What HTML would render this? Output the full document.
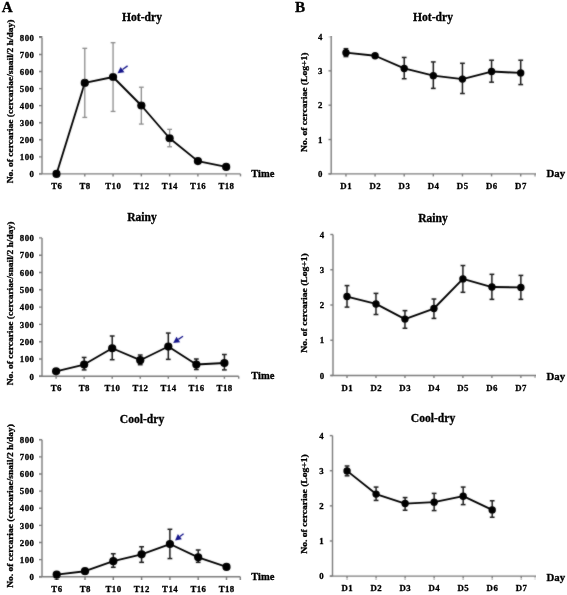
<!DOCTYPE html>
<html><head><meta charset="utf-8"><style>
html,body{margin:0;padding:0;background:#fff;}
body{width:567px;height:595px;overflow:hidden;}
svg{display:block;will-change:transform;font-family:"Liberation Serif", serif;font-weight:bold;}
text{fill:#000;stroke:#000;stroke-width:0.3px;}
</style></head><body>
<svg width="567" height="595" viewBox="0 0 567 595">
<defs><filter id="bl" x="0" y="0" width="1" height="1" filterUnits="objectBoundingBox"><feConvolveMatrix order="3" kernelMatrix="1 2 1 2 20 2 1 2 1" edgeMode="duplicate"/></filter></defs>
<rect width="567" height="595" fill="#fff"/>
<g filter="url(#bl)">
<line x1="42" y1="37.4" x2="42" y2="173.9" stroke="#7c7c7c" stroke-width="1.4"/>
<line x1="39.3" y1="173.90" x2="42" y2="173.90" stroke="#7c7c7c" stroke-width="1.4"/>
<line x1="39.3" y1="156.84" x2="42" y2="156.84" stroke="#7c7c7c" stroke-width="1.4"/>
<line x1="39.3" y1="139.78" x2="42" y2="139.78" stroke="#7c7c7c" stroke-width="1.4"/>
<line x1="39.3" y1="122.71" x2="42" y2="122.71" stroke="#7c7c7c" stroke-width="1.4"/>
<line x1="39.3" y1="105.65" x2="42" y2="105.65" stroke="#7c7c7c" stroke-width="1.4"/>
<line x1="39.3" y1="88.59" x2="42" y2="88.59" stroke="#7c7c7c" stroke-width="1.4"/>
<line x1="39.3" y1="71.53" x2="42" y2="71.53" stroke="#7c7c7c" stroke-width="1.4"/>
<line x1="39.3" y1="54.46" x2="42" y2="54.46" stroke="#7c7c7c" stroke-width="1.4"/>
<line x1="39.3" y1="37.40" x2="42" y2="37.40" stroke="#7c7c7c" stroke-width="1.4"/>
<line x1="39.3" y1="173.9" x2="240.5" y2="173.9" stroke="#7c7c7c" stroke-width="1.4"/>
<line x1="56.5" y1="173.9" x2="56.5" y2="176.4" stroke="#7c7c7c" stroke-width="1.4"/>
<line x1="84.78" y1="173.9" x2="84.78" y2="176.4" stroke="#7c7c7c" stroke-width="1.4"/>
<line x1="113.06" y1="173.9" x2="113.06" y2="176.4" stroke="#7c7c7c" stroke-width="1.4"/>
<line x1="141.34" y1="173.9" x2="141.34" y2="176.4" stroke="#7c7c7c" stroke-width="1.4"/>
<line x1="169.62" y1="173.9" x2="169.62" y2="176.4" stroke="#7c7c7c" stroke-width="1.4"/>
<line x1="197.9" y1="173.9" x2="197.9" y2="176.4" stroke="#7c7c7c" stroke-width="1.4"/>
<line x1="226.18" y1="173.9" x2="226.18" y2="176.4" stroke="#7c7c7c" stroke-width="1.4"/>
<line x1="240.5" y1="173.9" x2="240.5" y2="176.4" stroke="#7c7c7c" stroke-width="1.4"/>
<line x1="84.78" y1="48.32" x2="84.78" y2="117.42" stroke="#8c8c8c" stroke-width="1.3"/>
<line x1="82.38" y1="48.32" x2="87.18" y2="48.32" stroke="#8c8c8c" stroke-width="1.3"/>
<line x1="82.38" y1="117.42" x2="87.18" y2="117.42" stroke="#8c8c8c" stroke-width="1.3"/>
<line x1="113.06" y1="42.69" x2="113.06" y2="111.45" stroke="#8c8c8c" stroke-width="1.3"/>
<line x1="110.66" y1="42.69" x2="115.46000000000001" y2="42.69" stroke="#8c8c8c" stroke-width="1.3"/>
<line x1="110.66" y1="111.45" x2="115.46000000000001" y2="111.45" stroke="#8c8c8c" stroke-width="1.3"/>
<line x1="141.34" y1="87.22" x2="141.34" y2="124.08" stroke="#8c8c8c" stroke-width="1.3"/>
<line x1="138.94" y1="87.22" x2="143.74" y2="87.22" stroke="#8c8c8c" stroke-width="1.3"/>
<line x1="138.94" y1="124.08" x2="143.74" y2="124.08" stroke="#8c8c8c" stroke-width="1.3"/>
<line x1="169.62" y1="129.37" x2="169.62" y2="146.77" stroke="#8c8c8c" stroke-width="1.3"/>
<line x1="167.22" y1="129.37" x2="172.02" y2="129.37" stroke="#8c8c8c" stroke-width="1.3"/>
<line x1="167.22" y1="146.77" x2="172.02" y2="146.77" stroke="#8c8c8c" stroke-width="1.3"/>
<line x1="197.9" y1="159.91" x2="197.9" y2="162.30" stroke="#8c8c8c" stroke-width="1.3"/>
<line x1="195.5" y1="159.91" x2="200.3" y2="159.91" stroke="#8c8c8c" stroke-width="1.3"/>
<line x1="195.5" y1="162.30" x2="200.3" y2="162.30" stroke="#8c8c8c" stroke-width="1.3"/>
<polyline fill="none" stroke="#000" stroke-width="1.85" stroke-linejoin="round" points="56.50,173.90 84.78,82.96 113.06,76.99 141.34,105.48 169.62,138.24 197.90,161.10 226.18,166.90"/>
<circle cx="56.5" cy="173.90" r="4.1" fill="#000"/>
<circle cx="84.78" cy="82.96" r="4.1" fill="#000"/>
<circle cx="113.06" cy="76.99" r="4.1" fill="#000"/>
<circle cx="141.34" cy="105.48" r="4.1" fill="#000"/>
<circle cx="169.62" cy="138.24" r="4.1" fill="#000"/>
<circle cx="197.9" cy="161.10" r="4.1" fill="#000"/>
<circle cx="226.18" cy="166.90" r="4.1" fill="#000"/>
<line x1="127.6" y1="65.9" x2="122.52" y2="69.57" stroke="#19198c" stroke-width="1.3"/>
<polygon fill="#19198c" points="117.5,73.2 120.59,66.89 124.46,72.24"/>
<line x1="42" y1="237.9" x2="42" y2="376.3" stroke="#7c7c7c" stroke-width="1.4"/>
<line x1="39.3" y1="376.30" x2="42" y2="376.30" stroke="#7c7c7c" stroke-width="1.4"/>
<line x1="39.3" y1="359.00" x2="42" y2="359.00" stroke="#7c7c7c" stroke-width="1.4"/>
<line x1="39.3" y1="341.70" x2="42" y2="341.70" stroke="#7c7c7c" stroke-width="1.4"/>
<line x1="39.3" y1="324.40" x2="42" y2="324.40" stroke="#7c7c7c" stroke-width="1.4"/>
<line x1="39.3" y1="307.10" x2="42" y2="307.10" stroke="#7c7c7c" stroke-width="1.4"/>
<line x1="39.3" y1="289.80" x2="42" y2="289.80" stroke="#7c7c7c" stroke-width="1.4"/>
<line x1="39.3" y1="272.50" x2="42" y2="272.50" stroke="#7c7c7c" stroke-width="1.4"/>
<line x1="39.3" y1="255.20" x2="42" y2="255.20" stroke="#7c7c7c" stroke-width="1.4"/>
<line x1="39.3" y1="237.90" x2="42" y2="237.90" stroke="#7c7c7c" stroke-width="1.4"/>
<line x1="39.3" y1="376.3" x2="238.7" y2="376.3" stroke="#7c7c7c" stroke-width="1.4"/>
<line x1="56.1" y1="376.3" x2="56.1" y2="378.8" stroke="#7c7c7c" stroke-width="1.4"/>
<line x1="84.15" y1="376.3" x2="84.15" y2="378.8" stroke="#7c7c7c" stroke-width="1.4"/>
<line x1="112.2" y1="376.3" x2="112.2" y2="378.8" stroke="#7c7c7c" stroke-width="1.4"/>
<line x1="140.25" y1="376.3" x2="140.25" y2="378.8" stroke="#7c7c7c" stroke-width="1.4"/>
<line x1="168.3" y1="376.3" x2="168.3" y2="378.8" stroke="#7c7c7c" stroke-width="1.4"/>
<line x1="196.35" y1="376.3" x2="196.35" y2="378.8" stroke="#7c7c7c" stroke-width="1.4"/>
<line x1="224.4" y1="376.3" x2="224.4" y2="378.8" stroke="#7c7c7c" stroke-width="1.4"/>
<line x1="238.7" y1="376.3" x2="238.7" y2="378.8" stroke="#7c7c7c" stroke-width="1.4"/>
<line x1="84.15" y1="357.44" x2="84.15" y2="369.90" stroke="#1e1e1e" stroke-width="1.5"/>
<line x1="81.75" y1="357.44" x2="86.55000000000001" y2="357.44" stroke="#1e1e1e" stroke-width="1.5"/>
<line x1="81.75" y1="369.90" x2="86.55000000000001" y2="369.90" stroke="#1e1e1e" stroke-width="1.5"/>
<line x1="112.2" y1="335.99" x2="112.2" y2="359.69" stroke="#1e1e1e" stroke-width="1.5"/>
<line x1="109.8" y1="335.99" x2="114.60000000000001" y2="335.99" stroke="#1e1e1e" stroke-width="1.5"/>
<line x1="109.8" y1="359.69" x2="114.60000000000001" y2="359.69" stroke="#1e1e1e" stroke-width="1.5"/>
<line x1="140.25" y1="355.02" x2="140.25" y2="364.71" stroke="#1e1e1e" stroke-width="1.5"/>
<line x1="137.85" y1="355.02" x2="142.65" y2="355.02" stroke="#1e1e1e" stroke-width="1.5"/>
<line x1="137.85" y1="364.71" x2="142.65" y2="364.71" stroke="#1e1e1e" stroke-width="1.5"/>
<line x1="168.3" y1="333.05" x2="168.3" y2="359.35" stroke="#1e1e1e" stroke-width="1.5"/>
<line x1="165.9" y1="333.05" x2="170.70000000000002" y2="333.05" stroke="#1e1e1e" stroke-width="1.5"/>
<line x1="165.9" y1="359.35" x2="170.70000000000002" y2="359.35" stroke="#1e1e1e" stroke-width="1.5"/>
<line x1="196.35" y1="359.00" x2="196.35" y2="369.55" stroke="#1e1e1e" stroke-width="1.5"/>
<line x1="193.95" y1="359.00" x2="198.75" y2="359.00" stroke="#1e1e1e" stroke-width="1.5"/>
<line x1="193.95" y1="369.55" x2="198.75" y2="369.55" stroke="#1e1e1e" stroke-width="1.5"/>
<line x1="224.4" y1="354.50" x2="224.4" y2="369.90" stroke="#1e1e1e" stroke-width="1.5"/>
<line x1="222.0" y1="354.50" x2="226.8" y2="354.50" stroke="#1e1e1e" stroke-width="1.5"/>
<line x1="222.0" y1="369.90" x2="226.8" y2="369.90" stroke="#1e1e1e" stroke-width="1.5"/>
<polyline fill="none" stroke="#000" stroke-width="1.85" stroke-linejoin="round" points="56.10,371.28 84.15,364.54 112.20,348.27 140.25,360.21 168.30,346.54 196.35,364.54 224.40,362.98"/>
<circle cx="56.1" cy="371.28" r="4.1" fill="#000"/>
<circle cx="84.15" cy="364.54" r="4.1" fill="#000"/>
<circle cx="112.2" cy="348.27" r="4.1" fill="#000"/>
<circle cx="140.25" cy="360.21" r="4.1" fill="#000"/>
<circle cx="168.3" cy="346.54" r="4.1" fill="#000"/>
<circle cx="196.35" cy="364.54" r="4.1" fill="#000"/>
<circle cx="224.4" cy="362.98" r="4.1" fill="#000"/>
<line x1="183.0" y1="336.2" x2="178.32" y2="339.40" stroke="#19198c" stroke-width="1.3"/>
<polygon fill="#19198c" points="173.2,342.9 176.46,336.68 180.18,342.13"/>
<line x1="42" y1="439.8" x2="42" y2="576.7" stroke="#7c7c7c" stroke-width="1.4"/>
<line x1="39.3" y1="576.70" x2="42" y2="576.70" stroke="#7c7c7c" stroke-width="1.4"/>
<line x1="39.3" y1="559.59" x2="42" y2="559.59" stroke="#7c7c7c" stroke-width="1.4"/>
<line x1="39.3" y1="542.48" x2="42" y2="542.48" stroke="#7c7c7c" stroke-width="1.4"/>
<line x1="39.3" y1="525.36" x2="42" y2="525.36" stroke="#7c7c7c" stroke-width="1.4"/>
<line x1="39.3" y1="508.25" x2="42" y2="508.25" stroke="#7c7c7c" stroke-width="1.4"/>
<line x1="39.3" y1="491.14" x2="42" y2="491.14" stroke="#7c7c7c" stroke-width="1.4"/>
<line x1="39.3" y1="474.03" x2="42" y2="474.03" stroke="#7c7c7c" stroke-width="1.4"/>
<line x1="39.3" y1="456.91" x2="42" y2="456.91" stroke="#7c7c7c" stroke-width="1.4"/>
<line x1="39.3" y1="439.80" x2="42" y2="439.80" stroke="#7c7c7c" stroke-width="1.4"/>
<line x1="39.3" y1="576.7" x2="240.3" y2="576.7" stroke="#7c7c7c" stroke-width="1.4"/>
<line x1="56.7" y1="576.7" x2="56.7" y2="579.2" stroke="#7c7c7c" stroke-width="1.4"/>
<line x1="85.0" y1="576.7" x2="85.0" y2="579.2" stroke="#7c7c7c" stroke-width="1.4"/>
<line x1="113.3" y1="576.7" x2="113.3" y2="579.2" stroke="#7c7c7c" stroke-width="1.4"/>
<line x1="141.6" y1="576.7" x2="141.6" y2="579.2" stroke="#7c7c7c" stroke-width="1.4"/>
<line x1="169.9" y1="576.7" x2="169.9" y2="579.2" stroke="#7c7c7c" stroke-width="1.4"/>
<line x1="198.2" y1="576.7" x2="198.2" y2="579.2" stroke="#7c7c7c" stroke-width="1.4"/>
<line x1="226.5" y1="576.7" x2="226.5" y2="579.2" stroke="#7c7c7c" stroke-width="1.4"/>
<line x1="240.3" y1="576.7" x2="240.3" y2="579.2" stroke="#7c7c7c" stroke-width="1.4"/>
<line x1="113.3" y1="553.77" x2="113.3" y2="567.29" stroke="#1e1e1e" stroke-width="1.5"/>
<line x1="110.89999999999999" y1="553.77" x2="115.7" y2="553.77" stroke="#1e1e1e" stroke-width="1.5"/>
<line x1="110.89999999999999" y1="567.29" x2="115.7" y2="567.29" stroke="#1e1e1e" stroke-width="1.5"/>
<line x1="141.6" y1="546.75" x2="141.6" y2="562.33" stroke="#1e1e1e" stroke-width="1.5"/>
<line x1="139.2" y1="546.75" x2="144.0" y2="546.75" stroke="#1e1e1e" stroke-width="1.5"/>
<line x1="139.2" y1="562.33" x2="144.0" y2="562.33" stroke="#1e1e1e" stroke-width="1.5"/>
<line x1="169.9" y1="529.30" x2="169.9" y2="558.56" stroke="#1e1e1e" stroke-width="1.5"/>
<line x1="167.5" y1="529.30" x2="172.3" y2="529.30" stroke="#1e1e1e" stroke-width="1.5"/>
<line x1="167.5" y1="558.56" x2="172.3" y2="558.56" stroke="#1e1e1e" stroke-width="1.5"/>
<line x1="198.2" y1="550.00" x2="198.2" y2="562.33" stroke="#1e1e1e" stroke-width="1.5"/>
<line x1="195.79999999999998" y1="550.00" x2="200.6" y2="550.00" stroke="#1e1e1e" stroke-width="1.5"/>
<line x1="195.79999999999998" y1="562.33" x2="200.6" y2="562.33" stroke="#1e1e1e" stroke-width="1.5"/>
<polyline fill="none" stroke="#000" stroke-width="1.85" stroke-linejoin="round" points="56.70,574.65 85.00,571.22 113.30,561.13 141.60,554.28 169.90,544.02 198.20,557.36 226.50,566.95"/>
<circle cx="56.7" cy="574.65" r="4.1" fill="#000"/>
<circle cx="85.0" cy="571.22" r="4.1" fill="#000"/>
<circle cx="113.3" cy="561.13" r="4.1" fill="#000"/>
<circle cx="141.6" cy="554.28" r="4.1" fill="#000"/>
<circle cx="169.9" cy="544.02" r="4.1" fill="#000"/>
<circle cx="198.2" cy="557.36" r="4.1" fill="#000"/>
<circle cx="226.5" cy="566.95" r="4.1" fill="#000"/>
<line x1="183.6" y1="533.7" x2="179.89" y2="536.59" stroke="#19198c" stroke-width="1.3"/>
<polygon fill="#19198c" points="175.0,540.4 177.86,533.99 181.92,539.19"/>
<line x1="331.2" y1="36.5" x2="331.2" y2="173.9" stroke="#7c7c7c" stroke-width="1.4"/>
<line x1="328.5" y1="173.90" x2="331.2" y2="173.90" stroke="#7c7c7c" stroke-width="1.4"/>
<line x1="328.5" y1="139.55" x2="331.2" y2="139.55" stroke="#7c7c7c" stroke-width="1.4"/>
<line x1="328.5" y1="105.20" x2="331.2" y2="105.20" stroke="#7c7c7c" stroke-width="1.4"/>
<line x1="328.5" y1="70.85" x2="331.2" y2="70.85" stroke="#7c7c7c" stroke-width="1.4"/>
<line x1="328.5" y1="36.50" x2="331.2" y2="36.50" stroke="#7c7c7c" stroke-width="1.4"/>
<line x1="328.5" y1="173.9" x2="535.2" y2="173.9" stroke="#7c7c7c" stroke-width="1.4"/>
<line x1="345.95" y1="173.9" x2="345.95" y2="176.4" stroke="#7c7c7c" stroke-width="1.4"/>
<line x1="375.07" y1="173.9" x2="375.07" y2="176.4" stroke="#7c7c7c" stroke-width="1.4"/>
<line x1="404.2" y1="173.9" x2="404.2" y2="176.4" stroke="#7c7c7c" stroke-width="1.4"/>
<line x1="433.32" y1="173.9" x2="433.32" y2="176.4" stroke="#7c7c7c" stroke-width="1.4"/>
<line x1="462.45" y1="173.9" x2="462.45" y2="176.4" stroke="#7c7c7c" stroke-width="1.4"/>
<line x1="491.57" y1="173.9" x2="491.57" y2="176.4" stroke="#7c7c7c" stroke-width="1.4"/>
<line x1="520.7" y1="173.9" x2="520.7" y2="176.4" stroke="#7c7c7c" stroke-width="1.4"/>
<line x1="535.2" y1="173.9" x2="535.2" y2="176.4" stroke="#7c7c7c" stroke-width="1.4"/>
<line x1="345.95" y1="48.69" x2="345.95" y2="56.59" stroke="#1e1e1e" stroke-width="1.5"/>
<line x1="343.55" y1="48.69" x2="348.34999999999997" y2="48.69" stroke="#1e1e1e" stroke-width="1.5"/>
<line x1="343.55" y1="56.59" x2="348.34999999999997" y2="56.59" stroke="#1e1e1e" stroke-width="1.5"/>
<line x1="375.07" y1="54.71" x2="375.07" y2="56.77" stroke="#1e1e1e" stroke-width="1.5"/>
<line x1="372.67" y1="54.71" x2="377.46999999999997" y2="54.71" stroke="#1e1e1e" stroke-width="1.5"/>
<line x1="372.67" y1="56.77" x2="377.46999999999997" y2="56.77" stroke="#1e1e1e" stroke-width="1.5"/>
<line x1="404.2" y1="57.45" x2="404.2" y2="78.75" stroke="#1e1e1e" stroke-width="1.5"/>
<line x1="401.8" y1="57.45" x2="406.59999999999997" y2="57.45" stroke="#1e1e1e" stroke-width="1.5"/>
<line x1="401.8" y1="78.75" x2="406.59999999999997" y2="78.75" stroke="#1e1e1e" stroke-width="1.5"/>
<line x1="433.32" y1="61.92" x2="433.32" y2="88.37" stroke="#1e1e1e" stroke-width="1.5"/>
<line x1="430.92" y1="61.92" x2="435.71999999999997" y2="61.92" stroke="#1e1e1e" stroke-width="1.5"/>
<line x1="430.92" y1="88.37" x2="435.71999999999997" y2="88.37" stroke="#1e1e1e" stroke-width="1.5"/>
<line x1="462.45" y1="63.29" x2="462.45" y2="93.52" stroke="#1e1e1e" stroke-width="1.5"/>
<line x1="460.05" y1="63.29" x2="464.84999999999997" y2="63.29" stroke="#1e1e1e" stroke-width="1.5"/>
<line x1="460.05" y1="93.52" x2="464.84999999999997" y2="93.52" stroke="#1e1e1e" stroke-width="1.5"/>
<line x1="491.57" y1="60.20" x2="491.57" y2="82.19" stroke="#1e1e1e" stroke-width="1.5"/>
<line x1="489.17" y1="60.20" x2="493.96999999999997" y2="60.20" stroke="#1e1e1e" stroke-width="1.5"/>
<line x1="489.17" y1="82.19" x2="493.96999999999997" y2="82.19" stroke="#1e1e1e" stroke-width="1.5"/>
<line x1="520.7" y1="60.20" x2="520.7" y2="84.59" stroke="#1e1e1e" stroke-width="1.5"/>
<line x1="518.3000000000001" y1="60.20" x2="523.1" y2="60.20" stroke="#1e1e1e" stroke-width="1.5"/>
<line x1="518.3000000000001" y1="84.59" x2="523.1" y2="84.59" stroke="#1e1e1e" stroke-width="1.5"/>
<polyline fill="none" stroke="#000" stroke-width="1.85" stroke-linejoin="round" points="345.95,52.64 375.07,55.74 404.20,68.45 433.32,75.66 462.45,79.09 491.57,71.54 520.70,72.91"/>
<circle cx="345.95" cy="52.64" r="3.7" fill="#000"/>
<circle cx="375.07" cy="55.74" r="3.7" fill="#000"/>
<circle cx="404.2" cy="68.45" r="3.7" fill="#000"/>
<circle cx="433.32" cy="75.66" r="3.7" fill="#000"/>
<circle cx="462.45" cy="79.09" r="3.7" fill="#000"/>
<circle cx="491.57" cy="71.54" r="3.7" fill="#000"/>
<circle cx="520.7" cy="72.91" r="3.7" fill="#000"/>
<line x1="333.0" y1="234.5" x2="333.0" y2="375.5" stroke="#7c7c7c" stroke-width="1.4"/>
<line x1="330.3" y1="375.50" x2="333.0" y2="375.50" stroke="#7c7c7c" stroke-width="1.4"/>
<line x1="330.3" y1="340.25" x2="333.0" y2="340.25" stroke="#7c7c7c" stroke-width="1.4"/>
<line x1="330.3" y1="305.00" x2="333.0" y2="305.00" stroke="#7c7c7c" stroke-width="1.4"/>
<line x1="330.3" y1="269.75" x2="333.0" y2="269.75" stroke="#7c7c7c" stroke-width="1.4"/>
<line x1="330.3" y1="234.50" x2="333.0" y2="234.50" stroke="#7c7c7c" stroke-width="1.4"/>
<line x1="330.3" y1="375.5" x2="535.3" y2="375.5" stroke="#7c7c7c" stroke-width="1.4"/>
<line x1="347.0" y1="375.5" x2="347.0" y2="378.0" stroke="#7c7c7c" stroke-width="1.4"/>
<line x1="375.98" y1="375.5" x2="375.98" y2="378.0" stroke="#7c7c7c" stroke-width="1.4"/>
<line x1="404.96" y1="375.5" x2="404.96" y2="378.0" stroke="#7c7c7c" stroke-width="1.4"/>
<line x1="433.94" y1="375.5" x2="433.94" y2="378.0" stroke="#7c7c7c" stroke-width="1.4"/>
<line x1="462.92" y1="375.5" x2="462.92" y2="378.0" stroke="#7c7c7c" stroke-width="1.4"/>
<line x1="491.9" y1="375.5" x2="491.9" y2="378.0" stroke="#7c7c7c" stroke-width="1.4"/>
<line x1="520.88" y1="375.5" x2="520.88" y2="378.0" stroke="#7c7c7c" stroke-width="1.4"/>
<line x1="535.3" y1="375.5" x2="535.3" y2="378.0" stroke="#7c7c7c" stroke-width="1.4"/>
<line x1="347.0" y1="285.61" x2="347.0" y2="307.12" stroke="#1e1e1e" stroke-width="1.5"/>
<line x1="344.6" y1="285.61" x2="349.4" y2="285.61" stroke="#1e1e1e" stroke-width="1.5"/>
<line x1="344.6" y1="307.12" x2="349.4" y2="307.12" stroke="#1e1e1e" stroke-width="1.5"/>
<line x1="375.98" y1="293.37" x2="375.98" y2="314.52" stroke="#1e1e1e" stroke-width="1.5"/>
<line x1="373.58000000000004" y1="293.37" x2="378.38" y2="293.37" stroke="#1e1e1e" stroke-width="1.5"/>
<line x1="373.58000000000004" y1="314.52" x2="378.38" y2="314.52" stroke="#1e1e1e" stroke-width="1.5"/>
<line x1="404.96" y1="310.64" x2="404.96" y2="328.26" stroke="#1e1e1e" stroke-width="1.5"/>
<line x1="402.56" y1="310.64" x2="407.35999999999996" y2="310.64" stroke="#1e1e1e" stroke-width="1.5"/>
<line x1="402.56" y1="328.26" x2="407.35999999999996" y2="328.26" stroke="#1e1e1e" stroke-width="1.5"/>
<line x1="433.94" y1="299.01" x2="433.94" y2="318.39" stroke="#1e1e1e" stroke-width="1.5"/>
<line x1="431.54" y1="299.01" x2="436.34" y2="299.01" stroke="#1e1e1e" stroke-width="1.5"/>
<line x1="431.54" y1="318.39" x2="436.34" y2="318.39" stroke="#1e1e1e" stroke-width="1.5"/>
<line x1="462.92" y1="265.52" x2="462.92" y2="292.31" stroke="#1e1e1e" stroke-width="1.5"/>
<line x1="460.52000000000004" y1="265.52" x2="465.32" y2="265.52" stroke="#1e1e1e" stroke-width="1.5"/>
<line x1="460.52000000000004" y1="292.31" x2="465.32" y2="292.31" stroke="#1e1e1e" stroke-width="1.5"/>
<line x1="491.9" y1="274.33" x2="491.9" y2="299.36" stroke="#1e1e1e" stroke-width="1.5"/>
<line x1="489.5" y1="274.33" x2="494.29999999999995" y2="274.33" stroke="#1e1e1e" stroke-width="1.5"/>
<line x1="489.5" y1="299.36" x2="494.29999999999995" y2="299.36" stroke="#1e1e1e" stroke-width="1.5"/>
<line x1="520.88" y1="275.39" x2="520.88" y2="299.36" stroke="#1e1e1e" stroke-width="1.5"/>
<line x1="518.48" y1="275.39" x2="523.28" y2="275.39" stroke="#1e1e1e" stroke-width="1.5"/>
<line x1="518.48" y1="299.36" x2="523.28" y2="299.36" stroke="#1e1e1e" stroke-width="1.5"/>
<polyline fill="none" stroke="#000" stroke-width="1.85" stroke-linejoin="round" points="347.00,296.54 375.98,303.94 404.96,319.10 433.94,308.52 462.92,278.91 491.90,287.02 520.88,287.38"/>
<circle cx="347.0" cy="296.54" r="3.7" fill="#000"/>
<circle cx="375.98" cy="303.94" r="3.7" fill="#000"/>
<circle cx="404.96" cy="319.10" r="3.7" fill="#000"/>
<circle cx="433.94" cy="308.52" r="3.7" fill="#000"/>
<circle cx="462.92" cy="278.91" r="3.7" fill="#000"/>
<circle cx="491.9" cy="287.02" r="3.7" fill="#000"/>
<circle cx="520.88" cy="287.38" r="3.7" fill="#000"/>
<line x1="332.5" y1="435.6" x2="332.5" y2="576.1" stroke="#7c7c7c" stroke-width="1.4"/>
<line x1="329.8" y1="576.10" x2="332.5" y2="576.10" stroke="#7c7c7c" stroke-width="1.4"/>
<line x1="329.8" y1="540.98" x2="332.5" y2="540.98" stroke="#7c7c7c" stroke-width="1.4"/>
<line x1="329.8" y1="505.85" x2="332.5" y2="505.85" stroke="#7c7c7c" stroke-width="1.4"/>
<line x1="329.8" y1="470.73" x2="332.5" y2="470.73" stroke="#7c7c7c" stroke-width="1.4"/>
<line x1="329.8" y1="435.60" x2="332.5" y2="435.60" stroke="#7c7c7c" stroke-width="1.4"/>
<line x1="329.8" y1="576.1" x2="535.4" y2="576.1" stroke="#7c7c7c" stroke-width="1.4"/>
<line x1="347.05" y1="576.1" x2="347.05" y2="578.6" stroke="#7c7c7c" stroke-width="1.4"/>
<line x1="376.08" y1="576.1" x2="376.08" y2="578.6" stroke="#7c7c7c" stroke-width="1.4"/>
<line x1="405.11" y1="576.1" x2="405.11" y2="578.6" stroke="#7c7c7c" stroke-width="1.4"/>
<line x1="434.14" y1="576.1" x2="434.14" y2="578.6" stroke="#7c7c7c" stroke-width="1.4"/>
<line x1="463.17" y1="576.1" x2="463.17" y2="578.6" stroke="#7c7c7c" stroke-width="1.4"/>
<line x1="492.2" y1="576.1" x2="492.2" y2="578.6" stroke="#7c7c7c" stroke-width="1.4"/>
<line x1="521.23" y1="576.1" x2="521.23" y2="578.6" stroke="#7c7c7c" stroke-width="1.4"/>
<line x1="535.4" y1="576.1" x2="535.4" y2="578.6" stroke="#7c7c7c" stroke-width="1.4"/>
<line x1="347.05" y1="465.98" x2="347.05" y2="475.82" stroke="#1e1e1e" stroke-width="1.5"/>
<line x1="344.65000000000003" y1="465.98" x2="349.45" y2="465.98" stroke="#1e1e1e" stroke-width="1.5"/>
<line x1="344.65000000000003" y1="475.82" x2="349.45" y2="475.82" stroke="#1e1e1e" stroke-width="1.5"/>
<line x1="376.08" y1="487.06" x2="376.08" y2="500.41" stroke="#1e1e1e" stroke-width="1.5"/>
<line x1="373.68" y1="487.06" x2="378.47999999999996" y2="487.06" stroke="#1e1e1e" stroke-width="1.5"/>
<line x1="373.68" y1="500.41" x2="378.47999999999996" y2="500.41" stroke="#1e1e1e" stroke-width="1.5"/>
<line x1="405.11" y1="497.60" x2="405.11" y2="510.24" stroke="#1e1e1e" stroke-width="1.5"/>
<line x1="402.71000000000004" y1="497.60" x2="407.51" y2="497.60" stroke="#1e1e1e" stroke-width="1.5"/>
<line x1="402.71000000000004" y1="510.24" x2="407.51" y2="510.24" stroke="#1e1e1e" stroke-width="1.5"/>
<line x1="434.14" y1="493.38" x2="434.14" y2="510.59" stroke="#1e1e1e" stroke-width="1.5"/>
<line x1="431.74" y1="493.38" x2="436.53999999999996" y2="493.38" stroke="#1e1e1e" stroke-width="1.5"/>
<line x1="431.74" y1="510.59" x2="436.53999999999996" y2="510.59" stroke="#1e1e1e" stroke-width="1.5"/>
<line x1="463.17" y1="487.06" x2="463.17" y2="504.62" stroke="#1e1e1e" stroke-width="1.5"/>
<line x1="460.77000000000004" y1="487.06" x2="465.57" y2="487.06" stroke="#1e1e1e" stroke-width="1.5"/>
<line x1="460.77000000000004" y1="504.62" x2="465.57" y2="504.62" stroke="#1e1e1e" stroke-width="1.5"/>
<line x1="492.2" y1="500.76" x2="492.2" y2="517.27" stroke="#1e1e1e" stroke-width="1.5"/>
<line x1="489.8" y1="500.76" x2="494.59999999999997" y2="500.76" stroke="#1e1e1e" stroke-width="1.5"/>
<line x1="489.8" y1="517.27" x2="494.59999999999997" y2="517.27" stroke="#1e1e1e" stroke-width="1.5"/>
<polyline fill="none" stroke="#000" stroke-width="1.85" stroke-linejoin="round" points="347.05,470.90 376.08,494.08 405.11,503.57 434.14,502.16 463.17,496.19 492.20,509.89"/>
<circle cx="347.05" cy="470.90" r="3.7" fill="#000"/>
<circle cx="376.08" cy="494.08" r="3.7" fill="#000"/>
<circle cx="405.11" cy="503.57" r="3.7" fill="#000"/>
<circle cx="434.14" cy="502.16" r="3.7" fill="#000"/>
<circle cx="463.17" cy="496.19" r="3.7" fill="#000"/>
<circle cx="492.2" cy="509.89" r="3.7" fill="#000"/>
</g>
<g>
<text x="34.35" y="177.10" text-anchor="end" font-size="8.8" letter-spacing="0.45">0</text>
<text x="34.35" y="160.04" text-anchor="end" font-size="8.8" letter-spacing="0.45">100</text>
<text x="34.35" y="142.97" text-anchor="end" font-size="8.8" letter-spacing="0.45">200</text>
<text x="34.35" y="125.91" text-anchor="end" font-size="8.8" letter-spacing="0.45">300</text>
<text x="34.35" y="108.85" text-anchor="end" font-size="8.8" letter-spacing="0.45">400</text>
<text x="34.35" y="91.79" text-anchor="end" font-size="8.8" letter-spacing="0.45">500</text>
<text x="34.35" y="74.73" text-anchor="end" font-size="8.8" letter-spacing="0.45">600</text>
<text x="34.35" y="57.66" text-anchor="end" font-size="8.8" letter-spacing="0.45">700</text>
<text x="34.35" y="40.60" text-anchor="end" font-size="8.8" letter-spacing="0.45">800</text>
<text x="56.73" y="188.8" text-anchor="middle" font-size="8.8" letter-spacing="0.45">T6</text>
<text x="85.00" y="188.8" text-anchor="middle" font-size="8.8" letter-spacing="0.45">T8</text>
<text x="113.28" y="188.8" text-anchor="middle" font-size="8.8" letter-spacing="0.45">T10</text>
<text x="141.56" y="188.8" text-anchor="middle" font-size="8.8" letter-spacing="0.45">T12</text>
<text x="169.84" y="188.8" text-anchor="middle" font-size="8.8" letter-spacing="0.45">T14</text>
<text x="198.12" y="188.8" text-anchor="middle" font-size="8.8" letter-spacing="0.45">T16</text>
<text x="226.41" y="188.8" text-anchor="middle" font-size="8.8" letter-spacing="0.45">T18</text>
<text transform="translate(12.6,101.5) rotate(-90)" text-anchor="middle" font-size="8.7" textLength="163.7" lengthAdjust="spacingAndGlyphs">No. of cercariae (cercariae/snail/2 h/day)</text>
<text x="142" y="20.8" text-anchor="middle" font-size="11.6">Hot-dry</text>
<text x="251.3" y="177.1" font-size="10.5">Time</text>
<text x="34.35" y="379.50" text-anchor="end" font-size="8.8" letter-spacing="0.45">0</text>
<text x="34.35" y="362.20" text-anchor="end" font-size="8.8" letter-spacing="0.45">100</text>
<text x="34.35" y="344.90" text-anchor="end" font-size="8.8" letter-spacing="0.45">200</text>
<text x="34.35" y="327.60" text-anchor="end" font-size="8.8" letter-spacing="0.45">300</text>
<text x="34.35" y="310.30" text-anchor="end" font-size="8.8" letter-spacing="0.45">400</text>
<text x="34.35" y="293.00" text-anchor="end" font-size="8.8" letter-spacing="0.45">500</text>
<text x="34.35" y="275.70" text-anchor="end" font-size="8.8" letter-spacing="0.45">600</text>
<text x="34.35" y="258.40" text-anchor="end" font-size="8.8" letter-spacing="0.45">700</text>
<text x="34.35" y="241.10" text-anchor="end" font-size="8.8" letter-spacing="0.45">800</text>
<text x="56.33" y="391.3" text-anchor="middle" font-size="8.8" letter-spacing="0.45">T6</text>
<text x="84.38" y="391.3" text-anchor="middle" font-size="8.8" letter-spacing="0.45">T8</text>
<text x="112.42" y="391.3" text-anchor="middle" font-size="8.8" letter-spacing="0.45">T10</text>
<text x="140.47" y="391.3" text-anchor="middle" font-size="8.8" letter-spacing="0.45">T12</text>
<text x="168.53" y="391.3" text-anchor="middle" font-size="8.8" letter-spacing="0.45">T14</text>
<text x="196.57" y="391.3" text-anchor="middle" font-size="8.8" letter-spacing="0.45">T16</text>
<text x="224.62" y="391.3" text-anchor="middle" font-size="8.8" letter-spacing="0.45">T18</text>
<text transform="translate(12.6,303.5) rotate(-90)" text-anchor="middle" font-size="8.7" textLength="163.7" lengthAdjust="spacingAndGlyphs">No. of cercariae (cercariae/snail/2 h/day)</text>
<text x="142" y="220.9" text-anchor="middle" font-size="11.6">Rainy</text>
<text x="251.3" y="379.1" font-size="10.5">Time</text>
<text x="34.35" y="579.90" text-anchor="end" font-size="8.8" letter-spacing="0.45">0</text>
<text x="34.35" y="562.79" text-anchor="end" font-size="8.8" letter-spacing="0.45">100</text>
<text x="34.35" y="545.68" text-anchor="end" font-size="8.8" letter-spacing="0.45">200</text>
<text x="34.35" y="528.56" text-anchor="end" font-size="8.8" letter-spacing="0.45">300</text>
<text x="34.35" y="511.45" text-anchor="end" font-size="8.8" letter-spacing="0.45">400</text>
<text x="34.35" y="494.34" text-anchor="end" font-size="8.8" letter-spacing="0.45">500</text>
<text x="34.35" y="477.23" text-anchor="end" font-size="8.8" letter-spacing="0.45">600</text>
<text x="34.35" y="460.11" text-anchor="end" font-size="8.8" letter-spacing="0.45">700</text>
<text x="34.35" y="443.00" text-anchor="end" font-size="8.8" letter-spacing="0.45">800</text>
<text x="56.93" y="591.5" text-anchor="middle" font-size="8.8" letter-spacing="0.45">T6</text>
<text x="85.22" y="591.5" text-anchor="middle" font-size="8.8" letter-spacing="0.45">T8</text>
<text x="113.52" y="591.5" text-anchor="middle" font-size="8.8" letter-spacing="0.45">T10</text>
<text x="141.82" y="591.5" text-anchor="middle" font-size="8.8" letter-spacing="0.45">T12</text>
<text x="170.12" y="591.5" text-anchor="middle" font-size="8.8" letter-spacing="0.45">T14</text>
<text x="198.42" y="591.5" text-anchor="middle" font-size="8.8" letter-spacing="0.45">T16</text>
<text x="226.72" y="591.5" text-anchor="middle" font-size="8.8" letter-spacing="0.45">T18</text>
<text transform="translate(12.6,506) rotate(-90)" text-anchor="middle" font-size="8.7" textLength="163.7" lengthAdjust="spacingAndGlyphs">No. of cercariae (cercariae/snail/2 h/day)</text>
<text x="142" y="422.6" text-anchor="middle" font-size="11.6">Cool-dry</text>
<text x="251.3" y="580.3" font-size="10.5">Time</text>
<text x="322.85" y="177.10" text-anchor="end" font-size="8.8" letter-spacing="0.45">0</text>
<text x="322.85" y="142.75" text-anchor="end" font-size="8.8" letter-spacing="0.45">1</text>
<text x="322.85" y="108.40" text-anchor="end" font-size="8.8" letter-spacing="0.45">2</text>
<text x="322.85" y="74.05" text-anchor="end" font-size="8.8" letter-spacing="0.45">3</text>
<text x="322.85" y="39.70" text-anchor="end" font-size="8.8" letter-spacing="0.45">4</text>
<text x="346.18" y="189.0" text-anchor="middle" font-size="8.8" letter-spacing="0.45">D1</text>
<text x="375.30" y="189.0" text-anchor="middle" font-size="8.8" letter-spacing="0.45">D2</text>
<text x="404.43" y="189.0" text-anchor="middle" font-size="8.8" letter-spacing="0.45">D3</text>
<text x="433.55" y="189.0" text-anchor="middle" font-size="8.8" letter-spacing="0.45">D4</text>
<text x="462.68" y="189.0" text-anchor="middle" font-size="8.8" letter-spacing="0.45">D5</text>
<text x="491.80" y="189.0" text-anchor="middle" font-size="8.8" letter-spacing="0.45">D6</text>
<text x="520.93" y="189.0" text-anchor="middle" font-size="8.8" letter-spacing="0.45">D7</text>
<text transform="translate(306.7,102.3) rotate(-90)" text-anchor="middle" font-size="8.7" textLength="99.5" lengthAdjust="spacingAndGlyphs">No. of cercariae (Log+1)</text>
<text x="433" y="20.9" text-anchor="middle" font-size="11.6">Hot-dry</text>
<text x="546.5" y="177.0" font-size="10.8">Day</text>
<text x="324.65" y="378.70" text-anchor="end" font-size="8.8" letter-spacing="0.45">0</text>
<text x="324.65" y="343.45" text-anchor="end" font-size="8.8" letter-spacing="0.45">1</text>
<text x="324.65" y="308.20" text-anchor="end" font-size="8.8" letter-spacing="0.45">2</text>
<text x="324.65" y="272.95" text-anchor="end" font-size="8.8" letter-spacing="0.45">3</text>
<text x="324.65" y="237.70" text-anchor="end" font-size="8.8" letter-spacing="0.45">4</text>
<text x="347.23" y="390.5" text-anchor="middle" font-size="8.8" letter-spacing="0.45">D1</text>
<text x="376.21" y="390.5" text-anchor="middle" font-size="8.8" letter-spacing="0.45">D2</text>
<text x="405.19" y="390.5" text-anchor="middle" font-size="8.8" letter-spacing="0.45">D3</text>
<text x="434.17" y="390.5" text-anchor="middle" font-size="8.8" letter-spacing="0.45">D4</text>
<text x="463.15" y="390.5" text-anchor="middle" font-size="8.8" letter-spacing="0.45">D5</text>
<text x="492.12" y="390.5" text-anchor="middle" font-size="8.8" letter-spacing="0.45">D6</text>
<text x="521.11" y="390.5" text-anchor="middle" font-size="8.8" letter-spacing="0.45">D7</text>
<text transform="translate(306.7,303) rotate(-90)" text-anchor="middle" font-size="8.7" textLength="99.5" lengthAdjust="spacingAndGlyphs">No. of cercariae (Log+1)</text>
<text x="433" y="221.6" text-anchor="middle" font-size="11.6">Rainy</text>
<text x="546.5" y="380.2" font-size="10.8">Day</text>
<text x="324.15" y="579.30" text-anchor="end" font-size="8.8" letter-spacing="0.45">0</text>
<text x="324.15" y="544.18" text-anchor="end" font-size="8.8" letter-spacing="0.45">1</text>
<text x="324.15" y="509.05" text-anchor="end" font-size="8.8" letter-spacing="0.45">2</text>
<text x="324.15" y="473.93" text-anchor="end" font-size="8.8" letter-spacing="0.45">3</text>
<text x="324.15" y="438.80" text-anchor="end" font-size="8.8" letter-spacing="0.45">4</text>
<text x="347.28" y="591.0" text-anchor="middle" font-size="8.8" letter-spacing="0.45">D1</text>
<text x="376.31" y="591.0" text-anchor="middle" font-size="8.8" letter-spacing="0.45">D2</text>
<text x="405.34" y="591.0" text-anchor="middle" font-size="8.8" letter-spacing="0.45">D3</text>
<text x="434.37" y="591.0" text-anchor="middle" font-size="8.8" letter-spacing="0.45">D4</text>
<text x="463.40" y="591.0" text-anchor="middle" font-size="8.8" letter-spacing="0.45">D5</text>
<text x="492.43" y="591.0" text-anchor="middle" font-size="8.8" letter-spacing="0.45">D6</text>
<text x="521.46" y="591.0" text-anchor="middle" font-size="8.8" letter-spacing="0.45">D7</text>
<text transform="translate(306.7,504) rotate(-90)" text-anchor="middle" font-size="8.7" textLength="99.5" lengthAdjust="spacingAndGlyphs">No. of cercariae (Log+1)</text>
<text x="433" y="421.9" text-anchor="middle" font-size="11.6">Cool-dry</text>
<text x="546.5" y="580.5" font-size="10.8">Day</text>
<text x="1.8" y="12.4" font-size="15.2">A</text>
<text x="295" y="12.2" font-size="15.2">B</text>
</g>
</svg>
</body></html>
